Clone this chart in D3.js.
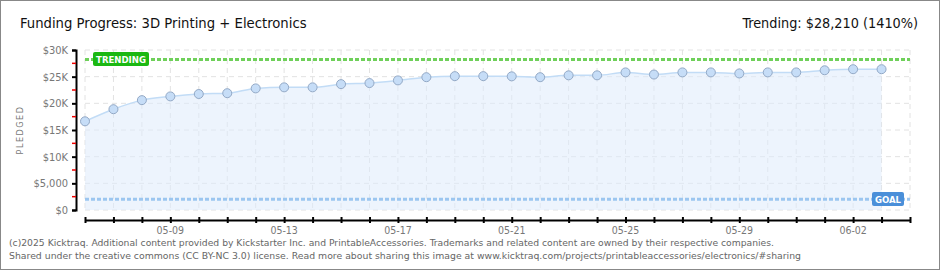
<!DOCTYPE html>
<html>
<head>
<meta charset="utf-8">
<script src="https://cdn.jsdelivr.net/npm/d3@7"></script>
<style>
  body { margin: 0; background: #fff; }
  svg { display: block; }
  text { font-family: "DejaVu Sans Condensed", "DejaVu Sans", sans-serif; }
</style>
</head>
<body>
<div class="chart"></div>
<script>
// daily pledged totals, 05-06 .. 06-03
const dates = ['2025-05-06','2025-05-07','2025-05-08','2025-05-09','2025-05-10','2025-05-11','2025-05-12',
  '2025-05-13','2025-05-14','2025-05-15','2025-05-16','2025-05-17','2025-05-18','2025-05-19','2025-05-20',
  '2025-05-21','2025-05-22','2025-05-23','2025-05-24','2025-05-25','2025-05-26','2025-05-27','2025-05-28',
  '2025-05-29','2025-05-30','2025-05-31','2025-06-01','2025-06-02','2025-06-03']
const pledged = [16630, 18900, 20600, 21300, 21750, 21900, 22800,
  23000, 23000, 23600, 23800, 24300, 24900, 25100, 25100,
  25060, 24900, 25250, 25250, 25800, 25400, 25800, 25800,
  25600, 25800, 25800, 26200, 26400, 26400]
const yTicks = [0, 5000, 10000, 15000, 20000, 25000, 30000]
const yTickLabels = ['$0', '$5,000', '$10K', '$15K', '$20K', '$25K', '$30K']
const xTickLabels = ['05-09', '05-13', '05-17', '05-21', '05-25', '05-29', '06-02']
const goal = 2000
const trending = 28210

const width = 940, height = 270
const parse = d3.timeParse('%Y-%m-%d')
const data = dates.map((d, i) => ({date: parse(d), value: pledged[i]}))

const x = d3.scaleTime()
  .domain([parse('2025-05-06'), parse('2025-06-04')])
  .range([85, 910])
const y = d3.scaleLinear()
  .domain([0, 30000])
  .range([210, 50])

const svg = d3.select('.chart').append('svg')
  .attr('width', width)
  .attr('height', height)

// frame
svg.append('rect')
  .attr('x', 0.5).attr('y', 0.5)
  .attr('width', width - 1).attr('height', height - 1)
  .attr('fill', '#fff')
  .attr('stroke', '#888')

// titles
svg.append('text')
  .attr('x', 20).attr('y', 28)
  .attr('font-size', 14.7)
  .attr('fill', '#111')
  .text('Funding Progress: 3D Printing + Electronics')

svg.append('text')
  .attr('x', 918).attr('y', 28)
  .attr('text-anchor', 'end')
  .attr('font-size', 14.3)
  .attr('fill', '#111')
  .text('Trending: $28,210 (1410%)')

// grid
const days = d3.timeDay.range(parse('2025-05-06'), d3.timeDay.offset(parse('2025-06-04'), 1))
svg.append('g').selectAll('line')
  .data(days)
  .join('line')
  .attr('x1', d => x(d)).attr('x2', d => x(d))
  .attr('y1', 50).attr('y2', 212)
  .attr('stroke', '#e2e2e2')
  .attr('stroke-dasharray', '5,4')

svg.append('g').selectAll('line')
  .data(yTicks)
  .join('line')
  .attr('x1', 85).attr('x2', 910)
  .attr('y1', d => y(d)).attr('y2', d => y(d))
  .attr('stroke', '#e2e2e2')
  .attr('stroke-dasharray', '5,4')

// area + line
const area = d3.area()
  .x(d => x(d.date))
  .y0(y(0))
  .y1(d => y(d.value))
  .curve(d3.curveMonotoneX)
const line = d3.line()
  .x(d => x(d.date))
  .y(d => y(d.value))
  .curve(d3.curveMonotoneX)

svg.append('path')
  .datum(data)
  .attr('d', area)
  .attr('fill', '#deebfb')
  .attr('fill-opacity', 0.55)

// goal line
svg.append('line')
  .attr('x1', 85).attr('x2', 910)
  .attr('y1', y(goal)).attr('y2', y(goal))
  .attr('stroke', '#9cc6f0')
  .attr('stroke-width', 3)
  .attr('stroke-dasharray', '4,2')

// trending line
svg.append('line')
  .attr('x1', 85).attr('x2', 910)
  .attr('y1', y(trending)).attr('y2', y(trending))
  .attr('stroke', '#6fd05a')
  .attr('stroke-width', 3)
  .attr('stroke-dasharray', '4,2')

svg.append('path')
  .datum(data)
  .attr('d', line)
  .attr('fill', 'none')
  .attr('stroke', '#c2dcf6')
  .attr('stroke-width', 1.5)

svg.append('g').selectAll('circle')
  .data(data)
  .join('circle')
  .attr('cx', d => x(d.date))
  .attr('cy', d => y(d.value))
  .attr('r', 4.5)
  .attr('fill', '#c6ddf7')
  .attr('stroke', '#93a9c6')
  .attr('stroke-width', 1)

// badges
function badge(bx, by, w, h, color, label, fs) {
  svg.append('rect')
    .attr('x', bx).attr('y', by)
    .attr('width', w).attr('height', h)
    .attr('rx', 2)
    .attr('fill', color)
  svg.append('text')
    .attr('x', bx + w / 2).attr('y', by + h / 2 + 3.5)
    .attr('text-anchor', 'middle')
    .attr('font-size', fs)
    .attr('font-weight', 'bold')
    .attr('fill', '#fff')
    .text(label)
}
badge(93, 52, 56, 14, '#1bb812', 'TRENDING', 9.5)
badge(872, 192, 32, 14, '#4a8fd9', 'GOAL', 9.5)

// y axis
const yAxis = svg.append('g')
  .attr('transform', 'translate(76,0)')
  .call(d3.axisLeft(y).tickValues(yTicks).tickSize(4).tickFormat((d, i) => yTickLabels[i]))
yAxis.select('.domain').attr('stroke', '#000').attr('stroke-width', 2)
yAxis.selectAll('.tick line').attr('stroke', '#000').attr('stroke-width', 2)
yAxis.selectAll('.tick text')
  .attr('x', -8)
  .attr('fill', '#777')
  .attr('font-size', 11)
  .attr('font-family', 'DejaVu Sans Condensed, sans-serif')

// red minor ticks
svg.append('g').selectAll('line')
  .data(d3.range(2500, 30000, 5000))
  .join('line')
  .attr('x1', 72).attr('x2', 76)
  .attr('y1', d => y(d)).attr('y2', d => y(d))
  .attr('stroke', '#e00')
  .attr('stroke-width', 1.5)

svg.append('text')
  .attr('transform', 'translate(23,130) rotate(-90)')
  .attr('text-anchor', 'middle')
  .attr('font-size', 9)
  .attr('letter-spacing', 1.5)
  .attr('fill', '#777')
  .text('PLEDGED')

// x axis
const xAxis = svg.append('g')
  .attr('transform', 'translate(0,220)')
  .call(d3.axisBottom(x).tickValues(days).tickSize(0).tickFormat(''))
xAxis.select('.domain').attr('stroke', '#000').attr('stroke-width', 2)
xAxis.selectAll('.tick line')
  .attr('y1', -3).attr('y2', 3)
  .attr('stroke', '#000').attr('stroke-width', 2)

svg.append('g').selectAll('text')
  .data(xTickLabels)
  .join('text')
  .attr('x', d => x(parse('2025-' + d)))
  .attr('y', 234)
  .attr('text-anchor', 'middle')
  .attr('font-size', 10.5)
  .attr('fill', '#777')
  .text(d => d)

// footer
const footer = [
  '(c)2025 Kicktraq. Additional content provided by Kickstarter Inc. and PrintableAccessories. Trademarks and related content are owned by their respective companies.',
  'Shared under the creative commons (CC BY-NC 3.0) license. Read more about sharing this image at www.kicktraq.com/projects/printableaccessories/electronics/#sharing'
]
const footerWidths = [765, 792]
svg.append('g').selectAll('text')
  .data(footer)
  .join('text')
  .attr('x', 9)
  .attr('y', (d, i) => 246 + i * 13)
  .attr('font-size', 9.5)
  .attr('font-family', 'DejaVu Sans, sans-serif')
  .attr('fill', '#666')
  .attr('textLength', (d, i) => footerWidths[i])
  .attr('lengthAdjust', 'spacingAndGlyphs')
  .text(d => d)
</script>
</body>
</html>
